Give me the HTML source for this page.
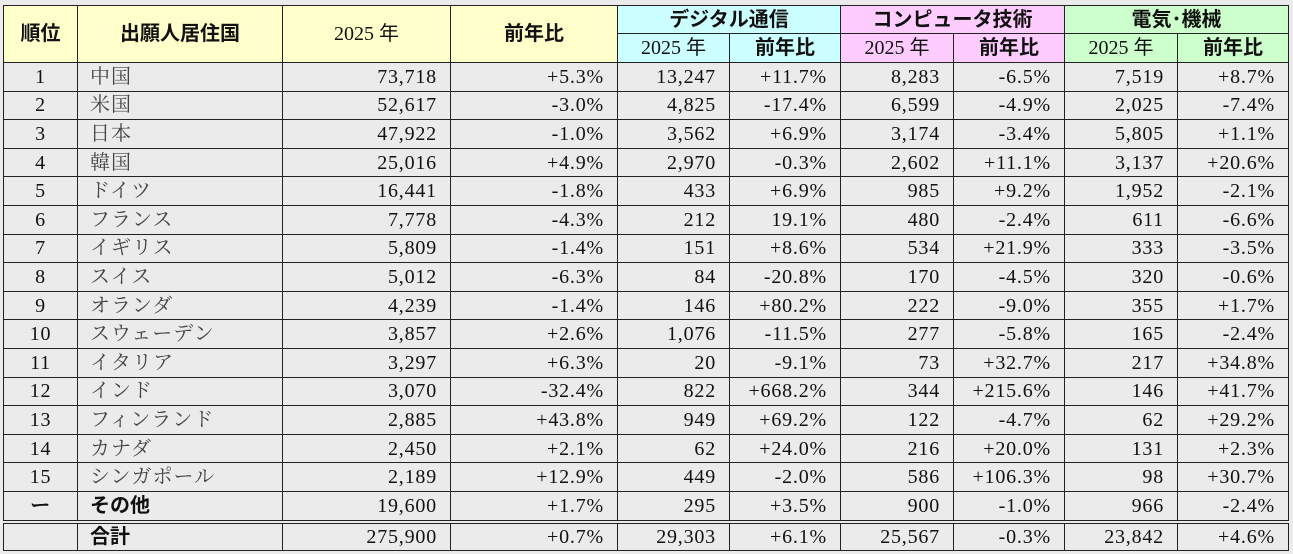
<!DOCTYPE html>
<html><head><meta charset="utf-8"><style>
body{margin:0;background:#ebebeb;width:1293px;height:554px;overflow:hidden}
table{position:absolute;left:3px;top:5px;border-collapse:collapse;table-layout:fixed;font-family:"Liberation Serif","Noto Serif CJK JP",serif;font-size:20px;letter-spacing:0.8px;color:#111;line-height:20px}
td{border:1px solid #222;padding:0 13px 0 6px;white-space:nowrap;overflow:hidden;background:#ebebeb;line-height:20px}
td.r{text-align:right}
td.c{text-align:center;padding:0}
td.d{border-right:1px dashed #444}
.h td{font-family:"Liberation Sans","Noto Sans CJK JP",sans-serif;text-align:center;font-size:20px;font-weight:bold;letter-spacing:0;padding:0}
.y{background:#ffffcc!important}.cy{background:#ccffff!important}.pk{background:#ffccff!important}.gr{background:#ccffcc!important}
.h td.n{font-family:"Liberation Serif","Noto Sans CJK JP",serif;font-weight:normal}
td.nm{color:#444;padding-left:12px;letter-spacing:1px}
td.b{font-family:"Liberation Sans","Noto Sans CJK JP",sans-serif;font-weight:bold;color:#111;padding-left:12px;letter-spacing:0}
tr.d td{height:27.6px}
tr.t td{border-top:4px double #222;height:26px}
</style></head><body>
<table>
<colgroup><col style="width:74px"><col style="width:205px"><col style="width:168px"><col style="width:167px"><col style="width:112px"><col style="width:111px"><col style="width:113px"><col style="width:111px"><col style="width:113px"><col style="width:111px"></colgroup>
<tr class="h" style="height:28px"><td class="y" rowspan="2">順位</td><td class="y" rowspan="2">出願人居住国</td><td class="y n d" rowspan="2">2025 年</td><td class="y" rowspan="2">前年比</td><td class="cy" colspan="2">デジタル通信</td><td class="pk" colspan="2">コンピュータ技術</td><td class="gr" colspan="2">電気･機械</td></tr>
<tr class="h" style="height:29px"><td class="cy n d">2025 年</td><td class="cy">前年比</td><td class="pk n d">2025 年</td><td class="pk">前年比</td><td class="gr n d">2025 年</td><td class="gr">前年比</td></tr>
<tr class="d"><td class="c">1</td><td class="nm">中国</td><td class="r d">73,718</td><td class="r">+5.3%</td><td class="r d">13,247</td><td class="r">+11.7%</td><td class="r d">8,283</td><td class="r">-6.5%</td><td class="r d">7,519</td><td class="r">+8.7%</td></tr>
<tr class="d"><td class="c">2</td><td class="nm">米国</td><td class="r d">52,617</td><td class="r">-3.0%</td><td class="r d">4,825</td><td class="r">-17.4%</td><td class="r d">6,599</td><td class="r">-4.9%</td><td class="r d">2,025</td><td class="r">-7.4%</td></tr>
<tr class="d"><td class="c">3</td><td class="nm">日本</td><td class="r d">47,922</td><td class="r">-1.0%</td><td class="r d">3,562</td><td class="r">+6.9%</td><td class="r d">3,174</td><td class="r">-3.4%</td><td class="r d">5,805</td><td class="r">+1.1%</td></tr>
<tr class="d"><td class="c">4</td><td class="nm">韓国</td><td class="r d">25,016</td><td class="r">+4.9%</td><td class="r d">2,970</td><td class="r">-0.3%</td><td class="r d">2,602</td><td class="r">+11.1%</td><td class="r d">3,137</td><td class="r">+20.6%</td></tr>
<tr class="d"><td class="c">5</td><td class="nm">ドイツ</td><td class="r d">16,441</td><td class="r">-1.8%</td><td class="r d">433</td><td class="r">+6.9%</td><td class="r d">985</td><td class="r">+9.2%</td><td class="r d">1,952</td><td class="r">-2.1%</td></tr>
<tr class="d"><td class="c">6</td><td class="nm">フランス</td><td class="r d">7,778</td><td class="r">-4.3%</td><td class="r d">212</td><td class="r">19.1%</td><td class="r d">480</td><td class="r">-2.4%</td><td class="r d">611</td><td class="r">-6.6%</td></tr>
<tr class="d"><td class="c">7</td><td class="nm">イギリス</td><td class="r d">5,809</td><td class="r">-1.4%</td><td class="r d">151</td><td class="r">+8.6%</td><td class="r d">534</td><td class="r">+21.9%</td><td class="r d">333</td><td class="r">-3.5%</td></tr>
<tr class="d"><td class="c">8</td><td class="nm">スイス</td><td class="r d">5,012</td><td class="r">-6.3%</td><td class="r d">84</td><td class="r">-20.8%</td><td class="r d">170</td><td class="r">-4.5%</td><td class="r d">320</td><td class="r">-0.6%</td></tr>
<tr class="d"><td class="c">9</td><td class="nm">オランダ</td><td class="r d">4,239</td><td class="r">-1.4%</td><td class="r d">146</td><td class="r">+80.2%</td><td class="r d">222</td><td class="r">-9.0%</td><td class="r d">355</td><td class="r">+1.7%</td></tr>
<tr class="d"><td class="c">10</td><td class="nm">スウェーデン</td><td class="r d">3,857</td><td class="r">+2.6%</td><td class="r d">1,076</td><td class="r">-11.5%</td><td class="r d">277</td><td class="r">-5.8%</td><td class="r d">165</td><td class="r">-2.4%</td></tr>
<tr class="d"><td class="c">11</td><td class="nm">イタリア</td><td class="r d">3,297</td><td class="r">+6.3%</td><td class="r d">20</td><td class="r">-9.1%</td><td class="r d">73</td><td class="r">+32.7%</td><td class="r d">217</td><td class="r">+34.8%</td></tr>
<tr class="d"><td class="c">12</td><td class="nm">インド</td><td class="r d">3,070</td><td class="r">-32.4%</td><td class="r d">822</td><td class="r">+668.2%</td><td class="r d">344</td><td class="r">+215.6%</td><td class="r d">146</td><td class="r">+41.7%</td></tr>
<tr class="d"><td class="c">13</td><td class="nm">フィンランド</td><td class="r d">2,885</td><td class="r">+43.8%</td><td class="r d">949</td><td class="r">+69.2%</td><td class="r d">122</td><td class="r">-4.7%</td><td class="r d">62</td><td class="r">+29.2%</td></tr>
<tr class="d"><td class="c">14</td><td class="nm">カナダ</td><td class="r d">2,450</td><td class="r">+2.1%</td><td class="r d">62</td><td class="r">+24.0%</td><td class="r d">216</td><td class="r">+20.0%</td><td class="r d">131</td><td class="r">+2.3%</td></tr>
<tr class="d"><td class="c">15</td><td class="nm">シンガポール</td><td class="r d">2,189</td><td class="r">+12.9%</td><td class="r d">449</td><td class="r">-2.0%</td><td class="r d">586</td><td class="r">+106.3%</td><td class="r d">98</td><td class="r">+30.7%</td></tr>
<tr class="d"><td class="c" style="font-weight:bold">ー</td><td class="b">その他</td><td class="r d">19,600</td><td class="r">+1.7%</td><td class="r d">295</td><td class="r">+3.5%</td><td class="r d">900</td><td class="r">-1.0%</td><td class="r d">966</td><td class="r">-2.4%</td></tr>
<tr class="d t"><td class="c"></td><td class="b">合計</td><td class="r d">275,900</td><td class="r">+0.7%</td><td class="r d">29,303</td><td class="r">+6.1%</td><td class="r d">25,567</td><td class="r">-0.3%</td><td class="r d">23,842</td><td class="r">+4.6%</td></tr>
</table>
</body></html>
